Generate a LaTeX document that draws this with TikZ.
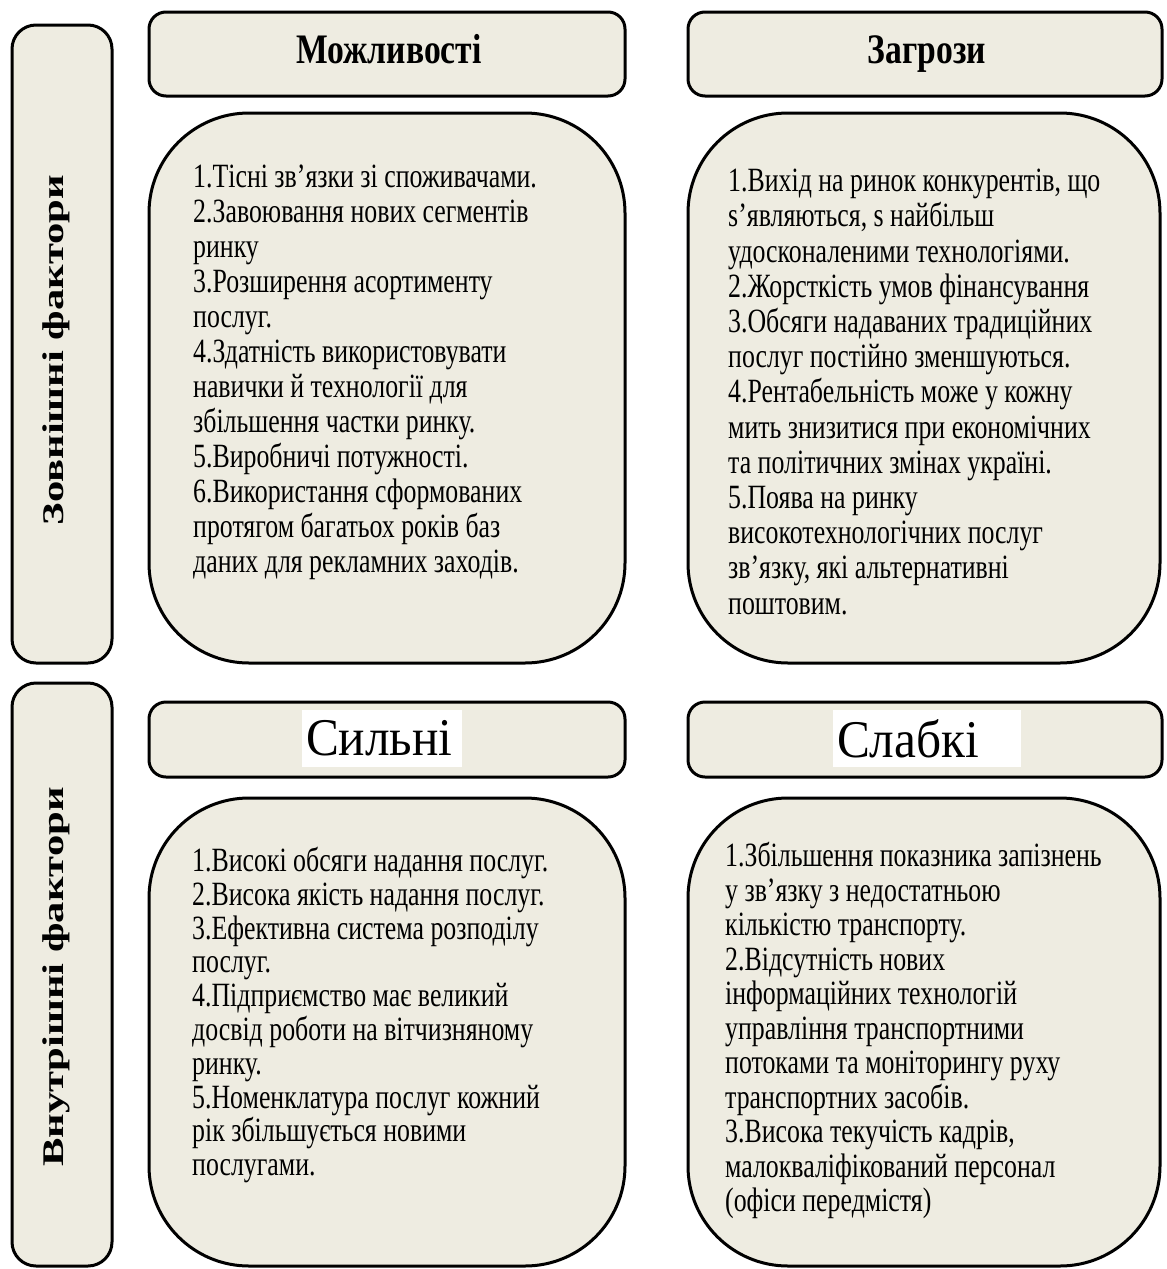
\documentclass[tikz,border=0pt]{standalone}
\usepackage{fontspec}
\setmainfont{Liberation Serif}
\newfontfamily\itemfont[FakeStretch=0.76]{Liberation Serif}
\newfontfamily\titlefont[FakeStretch=0.8]{Liberation Serif}
\newfontfamily\plainfont[FakeStretch=0.93]{Liberation Serif}
\newfontfamily\sidefont[FakeStretch=1.42]{Liberation Serif}
\usetikzlibrary{positioning}
\definecolor{panel}{HTML}{EEECE1}

\begin{document}
\begin{tikzpicture}[
	x=1pt, y=-1pt,
	frame/.style = {draw, line width=3pt, fill=panel, inner sep=0pt},
	sidebox/.style = {frame, rounded corners=24pt, minimum width=100pt},
	headbox/.style = {frame, rounded corners=17pt},
	bodybox/.style = {frame, rounded corners=100pt, minimum width=476pt},
	sidelabel/.style = {rotate=90, anchor=base, inner sep=0pt, font=\sidefont\fontsize{30}{36}\selectfont\bfseries},
	headlabel/.style = {anchor=base, inner sep=0pt, font=\titlefont\fontsize{42}{48}\selectfont\bfseries},
	headwhite/.style = {fill=white, align=left, inner xsep=4pt, minimum height=57pt, font=\plainfont\fontsize{53}{60}\selectfont},
	bodytext/.style = {anchor=north west, align=left, inner sep=0pt, font=\itemfont\fontsize{34}{#1}\selectfont},
	bodytext/.default = 35
     ]
	\path[use as bounding box, fill=white] (0,0) rectangle (1167,1269);
%
	\node[sidebox, minimum height=638pt] (ext) at (62,344) {};
	\node[sidebox, minimum height=583pt] (int) at (62,974.5) {};
	\node[sidelabel] (extlabel) at (63,350) {Зовнішні фактори};
	\node[sidelabel] (intlabel) at (63,977) {Внутрішні фактори};
%
	\node[headbox, minimum width=476pt, minimum height=84pt] (opp) at (387,54) {};
	\node[headbox, minimum width=474pt, minimum height=84pt] (thr) at (925,54) {};
	\node[headlabel] (opplabel) at (389,63) {Можливості};
	\node[headlabel] (thrlabel) at (927,63) {Загрози};
%
	\node[bodybox, minimum height=550pt] (oppbody) at (387,388) {};
	\node[bodybox, minimum width=472pt, minimum height=550pt] (thrbody) at (924,388) {};
%
	\node[bodytext] (opptext) at (193,165) {1.Тісні зв’язки зі споживачами.\\
		2.Завоювання нових сегментів\\ ринку\\
		3.Розширення асортименту\\ послуг.\\
		4.Здатність використовувати\\ навички й технології для\\ збільшення частки ринку.\\
		5.Виробничі потужності.\\
		6.Використання сформованих\\ протягом багатьох років баз\\ даних для рекламних заходів.};
	\node[bodytext=35.2] (thrtext) at (728,169) {1.Вихід на ринок конкурентів, що\\
		s’являються, s найбільш\\ удосконаленими технологіями.\\
		2.Жорсткість умов фінансування\\
		3.Обсяги надаваних традиційних\\ послуг постійно зменшуються.\\
		4.Рентабельність може у кожну\\ мить знизитися при економічних\\ та політичних змінах україні.\\
		5.Поява на ринку\\ високотехнологічних послуг\\ зв’язку, які альтернативні\\ поштовим.};
%
	\node[headbox, minimum width=476pt, minimum height=75pt] (str) at (387,739.5) {};
	\node[headbox, minimum width=474pt, minimum height=75pt] (wea) at (925,739.5) {};
	\node[headwhite, text width=152pt] (strlabel) at (382,738.5) {Сильні};
	\node[headwhite, text width=180pt] (wealabel) at (927,738.5) {Слабкі};
%
	\node[bodybox, minimum height=468pt] (strbody) at (387,1032) {};
	\node[bodybox, minimum width=472pt, minimum height=468pt] (weabody) at (924,1032) {};
%
	\node[bodytext=33.8] (strtext) at (192,847) {1.Високі обсяги надання послуг.\\
		2.Висока якість надання послуг.\\
		3.Ефективна система розподілу\\ послуг.\\
		4.Підприємство має великий\\ досвід роботи на вітчизняному\\ ринку.\\
		5.Номенклатура послуг кожний\\ рік збільшується новими\\ послугами.};
	\node[bodytext=34.5] (weatext) at (725,842) {1.Збільшення показника запізнень\\
		у зв’язку з недостатньою\\ кількістю транспорту.\\
		2.Відсутність нових\\ інформаційних технологій\\ управління транспортними\\ потоками та моніторингу руху\\ транспортних засобів.\\
		3.Висока текучість кадрів,\\ малокваліфікований персонал\\ (офіси передмістя)};
\end{tikzpicture}
\end{document}
